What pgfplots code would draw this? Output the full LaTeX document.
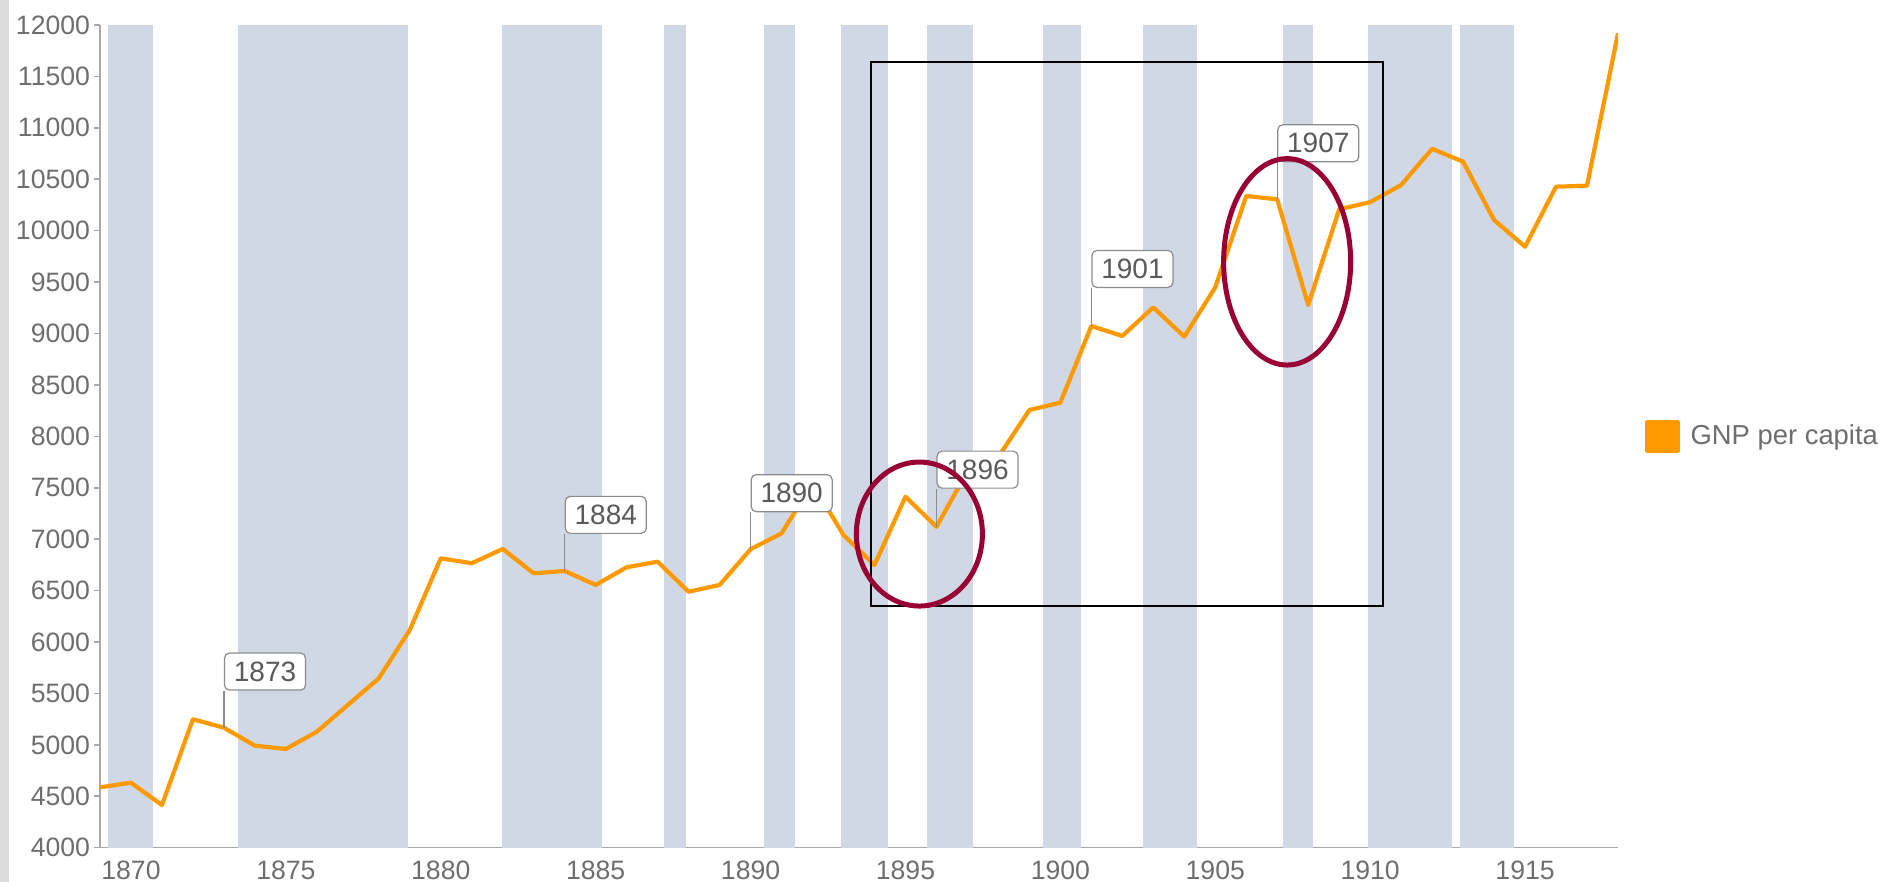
\documentclass[border=0pt]{standalone}
\usepackage{fontspec}
\setmainfont{Liberation Sans}
\usepackage{pgfplots}
\usepackage{pgfplotstable}
\pgfplotsset{compat=1.18}
\definecolor{gnp}{HTML}{FF9900}
\definecolor{band}{HTML}{D0D8E5}
\definecolor{tickc}{HTML}{6E6E6E}
\definecolor{axc}{HTML}{A8A8A8}
\definecolor{ellc}{HTML}{990033}
\definecolor{annc}{HTML}{5A5A5A}
\definecolor{annb}{HTML}{8C8C8C}

\pgfplotstableread{
year gnp
1869 4587
1870 4632
1871 4415
1872 5249
1873 5167
1874 4992
1875 4960
1876 5128
1877 5388
1878 5647
1879 6117
1880 6814
1881 6766
1882 6905
1883 6668
1884 6691
1885 6555
1886 6727
1887 6781
1888 6489
1889 6555
1890 6902
1891 7057
1892 7540
1893 7040
1894 6749
1895 7413
1896 7121
1897 7660
1898 7800
1899 8256
1900 8328
1901 9073
1902 8976
1903 9255
1904 8969
1905 9449
1906 10337
1907 10305
1908 9277
1909 10208
1910 10277
1911 10444
1912 10796
1913 10671
1914 10104
1915 9844
1916 10428
1917 10437
1918 11919
}\gnptable

\tikzset{
  annot/.style={draw=annb, line width=0.6pt},
  abox/.style={draw=annb, fill=white, rounded corners=2.5pt, line width=0.6pt,
    minimum width=40.5pt, minimum height=18.5pt, inner sep=0pt, text=annc,
    font=\fontsize{14}{16}\selectfont, anchor=south west},
}

\begin{document}
\begin{tikzpicture}
\path[use as bounding box] (-50pt,-17.15pt) rectangle (890.5pt,423.85pt);
\fill[black!14] (-50pt,-17.15pt) rectangle (-45.5pt,423.85pt);
\begin{axis}[
  at={(0pt,0pt)}, anchor=south west,
  scale only axis, width=759pt, height=411.35pt,
  xmin=1869, xmax=1918, ymin=4000, ymax=12000,
  xtick={1870,1875,...,1915}, ytick={4000,4500,...,12000},
  scaled y ticks=false, scaled x ticks=false,
  axis lines*=left,
  axis line style={-, axc, line width=0.8pt},
  tick align=outside, major tick length=3pt,
  ytick style={axc, line width=0.8pt},
  xtick style={draw=none},
  ticklabel style={font=\fontsize{13.3}{16}\selectfont, text=tickc},
  yticklabel style={xshift=1.5pt},
  /pgf/number format/1000 sep={},
  /pgf/number format/assume math mode=true,
  legend style={draw=none, fill=none, at={(1.0178,0.5)}, anchor=west,
    font=\fontsize{13.7}{16}\selectfont, text=tickc, inner sep=0pt,
    /tikz/every even column/.append style={column sep=0pt}},
  legend image code/.code={\fill[gnp] (0pt,-7.25pt) rectangle (15pt,7.25pt);},
]
% recession bands
\addplot[fill=band, draw=none, forget plot] coordinates {(1869.26,4000) (1869.26,12000) (1870.71,12000) (1870.71,4000)} -- cycle;
\addplot[fill=band, draw=none, forget plot] coordinates {(1873.45,4000) (1873.45,12000) (1878.95,12000) (1878.95,4000)} -- cycle;
\addplot[fill=band, draw=none, forget plot] coordinates {(1881.97,4000) (1881.97,12000) (1885.19,12000) (1885.19,4000)} -- cycle;
\addplot[fill=band, draw=none, forget plot] coordinates {(1887.19,4000) (1887.19,12000) (1887.91,12000) (1887.91,4000)} -- cycle;
\addplot[fill=band, draw=none, forget plot] coordinates {(1890.44,4000) (1890.44,12000) (1891.44,12000) (1891.44,4000)} -- cycle;
\addplot[fill=band, draw=none, forget plot] coordinates {(1892.91,4000) (1892.91,12000) (1894.44,12000) (1894.44,4000)} -- cycle;
\addplot[fill=band, draw=none, forget plot] coordinates {(1895.69,4000) (1895.69,12000) (1897.19,12000) (1897.19,4000)} -- cycle;
\addplot[fill=band, draw=none, forget plot] coordinates {(1899.44,4000) (1899.44,12000) (1900.68,12000) (1900.68,4000)} -- cycle;
\addplot[fill=band, draw=none, forget plot] coordinates {(1902.67,4000) (1902.67,12000) (1904.42,12000) (1904.42,4000)} -- cycle;
\addplot[fill=band, draw=none, forget plot] coordinates {(1907.18,4000) (1907.18,12000) (1908.16,12000) (1908.16,4000)} -- cycle;
\addplot[fill=band, draw=none, forget plot] coordinates {(1909.92,4000) (1909.92,12000) (1912.64,12000) (1912.64,4000)} -- cycle;
\addplot[fill=band, draw=none, forget plot] coordinates {(1912.90,4000) (1912.90,12000) (1914.65,12000) (1914.65,4000)} -- cycle;
% series
\addplot[gnp, line width=2.1pt, line join=round, no marks] table[x=year, y=gnp] {\gnptable};
\addlegendentry{\hspace{3.5pt}GNP per capita}
% annotations
\draw[annot] (axis cs:1873,5167) -- ++(0pt,18.5pt) node[abox] {1873};
\draw[annot] (axis cs:1884,6691) -- ++(0pt,18.5pt) node[abox] {1884};
\draw[annot] (axis cs:1890,6902) -- ++(0pt,18.5pt) node[abox] {1890};
\draw[annot] (axis cs:1896,7121) -- ++(0pt,19pt) node[abox] {1896};
\draw[annot] (axis cs:1901,9073) -- ++(0pt,19pt) node[abox] {1901};
\draw[annot] (axis cs:1907,10305) -- ++(0pt,18.5pt) node[abox] {1907};
% highlight shapes
\draw[black, line width=1pt] (axis cs:1893.9,6353) rectangle (axis cs:1910.42,11637);
\draw[ellc, line width=2.5pt] (axis cs:1895.45,7050) ellipse [x radius=31.5pt, y radius=36pt];
\draw[ellc, line width=2.5pt] (axis cs:1907.32,9697) ellipse [x radius=31.75pt, y radius=51.6pt];
\end{axis}
\end{tikzpicture}
\end{document}
